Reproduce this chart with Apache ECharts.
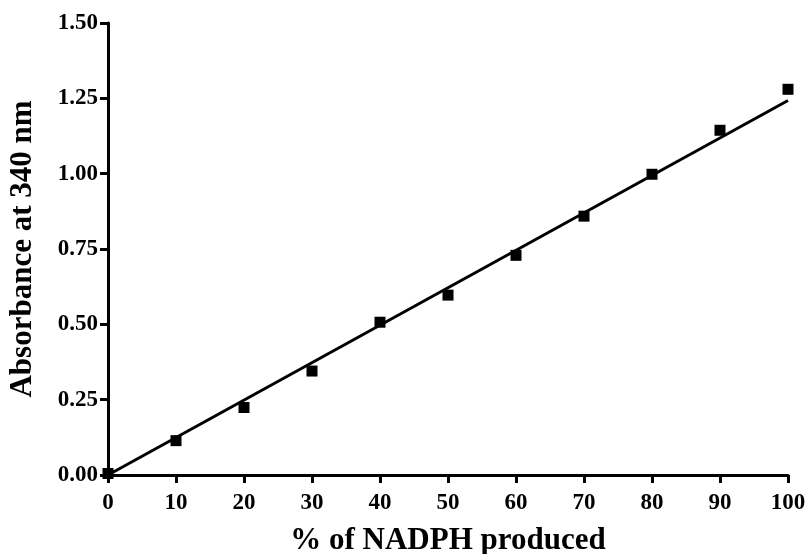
<!DOCTYPE html>
<html>
<head>
<meta charset="utf-8">
<script src="https://cdn.jsdelivr.net/npm/echarts@6/dist/echarts.min.js"></script>
<style>
html, body { margin: 0; padding: 0; background: #fff; }
#chart { width: 808px; height: 554px; }
</style>
</head>
<body>
<div id="chart"></div>
<script>
// measured points
const nadphPct = [0, 10, 20, 30, 40, 50, 60, 70, 80, 90, 100];
const absorbance = [0.005, 0.114, 0.224, 0.345, 0.507, 0.597, 0.729, 0.859, 0.998, 1.144, 1.280];
// linear fit endpoints
const fitX = [0, 100];
const fitY = [0.0, 1.243];

const font = 'Liberation Serif';
const myChart = echarts.init(document.getElementById('chart'));

const axisCommon = {
    axisLine: { show: true, onZero: false, lineStyle: { color: '#000', width: 3 } },
    axisTick: { show: true, inside: false, length: 8, lineStyle: { color: '#000', width: 3 } },
    splitLine: { show: false },
    nameLocation: 'middle',
    nameTextStyle: { fontFamily: font, fontWeight: 'bold', fontSize: 31, color: '#000' }
};

const option = {
    animation: false,
    backgroundColor: '#fff',
    grid: { left: 108, right: 20, top: 23, bottom: 79, containLabel: false, outerBoundsMode: 'none' },
    xAxis: Object.assign({}, axisCommon, {
        type: 'value',
        min: 0, max: 100, interval: 10,
        name: '% of NADPH produced',
        nameGap: 50,
        axisLabel: { fontFamily: font, fontWeight: 'bold', fontSize: 23, color: '#000', margin: 17 }
    }),
    yAxis: Object.assign({}, axisCommon, {
        type: 'value',
        min: 0, max: 1.5, interval: 0.25,
        name: 'Absorbance at 340 nm',
        nameGap: 70,
        axisLabel: {
            fontFamily: font, fontWeight: 'bold', fontSize: 23, color: '#000', margin: 10,
            formatter: v => v.toFixed(2)
        }
    }),
    series: [
        {
            type: 'line',
            data: fitX.map((x, i) => [x, fitY[i]]),
            symbol: 'none',
            lineStyle: { color: '#000', width: 3 },
            z: 2
        },
        {
            type: 'scatter',
            data: nadphPct.map((x, i) => [x, absorbance[i]]),
            symbol: 'rect',
            symbolSize: 11,
            itemStyle: { color: '#000', opacity: 1 },
            z: 3
        }
    ]
};
myChart.setOption(option);
</script>
</body>
</html>
